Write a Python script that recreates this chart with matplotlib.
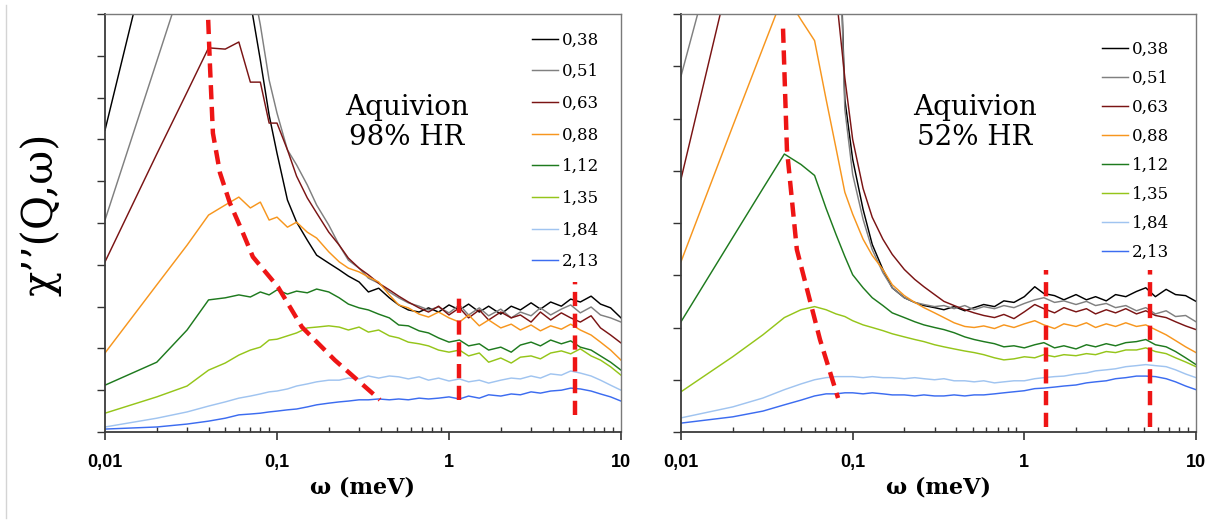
import numpy as np
import matplotlib.pyplot as plt
from matplotlib.lines import Line2D
from matplotlib.ticker import LogLocator, NullLocator, NullFormatter

# energy grid (meV), shared by all curves
omega = [0.01, 0.02, 0.03, 0.04, 0.05, 0.06, 0.07, 0.08, 0.09, 0.1,
         0.115, 0.13, 0.15, 0.17, 0.2, 0.23, 0.26, 0.3, 0.34, 0.39,
         0.45, 0.51, 0.58, 0.67, 0.76, 0.87, 1.0, 1.15, 1.3, 1.5,
         1.7, 2.0, 2.3, 2.6, 3.0, 3.4, 3.9, 4.5, 5.1, 5.8,
         6.7, 7.6, 8.7, 10.0]

q_labels = ['0,38', '0,51', '0,63', '0,88', '1,12', '1,35', '1,84', '2,13']
colors = ['#000000', '#808080', '#7a1414', '#f7961e', '#1e7a1e', '#95c51a', '#a0c4f0', '#3c6cf0']

# --- Aquivion 98% HR ---
black98 = [7.22, 12.3, 14, 14, 14, 14, 10.3, 8.90, 7.58, 6.67,
           5.55, 5.02, 4.59, 4.23, 4.04, 3.88, 3.73, 3.59, 3.35, 3.44,
           3.21, 3.04, 2.92, 2.87, 2.97, 2.87, 3.04, 2.92, 3.06, 2.87,
           3.01, 2.82, 3.01, 2.92, 3.09, 2.94, 3.11, 3.01, 3.18, 3.11,
           3.25, 3.06, 2.97, 2.73]
gray98 = [5.07, 8.87, 11.1, 13, 13, 13, 11.0, 9.74, 8.42, 7.63,
          6.75, 6.39, 5.91, 5.43, 4.95, 4.47, 4.11, 3.92, 3.68, 3.56,
          3.35, 3.21, 3.09, 3.01, 2.92, 2.99, 2.85, 3.04, 2.80, 2.97,
          2.78, 2.94, 2.73, 2.87, 2.78, 2.97, 2.80, 2.94, 3.04, 2.85,
          2.99, 2.80, 2.73, 2.63]
maroon98 = [4.07, 6.65, 8.13, 9.19, 9.16, 9.33, 8.37, 8.37, 7.39, 7.39,
            6.75, 6.12, 5.60, 5.24, 4.78, 4.47, 4.16, 3.92, 3.76, 3.56,
            3.40, 3.25, 3.11, 2.97, 2.87, 3.01, 2.80, 2.97, 2.73, 2.92,
            2.68, 2.87, 2.73, 2.80, 2.63, 2.87, 2.68, 2.85, 2.73, 2.63,
            2.78, 2.49, 2.32, 2.13]
orange98 = [1.89, 3.52, 4.47, 5.19, 5.43, 5.62, 5.36, 5.50, 5.07, 5.14,
            4.90, 5.02, 4.78, 4.64, 4.31, 4.07, 3.92, 3.83, 3.71, 3.59,
            3.28, 3.04, 2.97, 2.82, 2.75, 2.87, 2.73, 2.63, 2.80, 2.54,
            2.68, 2.49, 2.58, 2.44, 2.56, 2.42, 2.54, 2.46, 2.58, 2.44,
            2.32, 2.15, 1.96, 1.72]
green98 = [1.12, 1.67, 2.44, 3.16, 3.21, 3.28, 3.23, 3.35, 3.28, 3.40,
           3.30, 3.37, 3.33, 3.42, 3.35, 3.21, 3.06, 2.97, 2.92, 2.82,
           2.73, 2.56, 2.54, 2.42, 2.37, 2.25, 2.15, 2.20, 2.06, 2.11,
           1.96, 2.03, 1.91, 2.08, 2.15, 2.06, 2.20, 2.11, 2.18, 2.03,
           1.96, 1.82, 1.67, 1.48]
ygreen98 = [0.45, 0.84, 1.10, 1.48, 1.65, 1.84, 1.96, 2.03, 2.20, 2.22,
            2.30, 2.37, 2.49, 2.51, 2.54, 2.51, 2.44, 2.51, 2.39, 2.44,
            2.30, 2.25, 2.15, 2.11, 2.06, 1.96, 1.91, 1.96, 1.82, 1.89,
            1.67, 1.77, 1.65, 1.79, 1.82, 1.75, 1.89, 1.94, 1.87, 1.99,
            1.82, 1.72, 1.56, 1.36]
lblue98 = [0.12, 0.33, 0.48, 0.62, 0.72, 0.81, 0.86, 0.91, 0.96, 0.98,
           1.03, 1.10, 1.15, 1.20, 1.24, 1.24, 1.29, 1.27, 1.34, 1.29,
           1.34, 1.32, 1.27, 1.32, 1.24, 1.29, 1.22, 1.27, 1.20, 1.24,
           1.17, 1.24, 1.29, 1.27, 1.34, 1.29, 1.39, 1.36, 1.46, 1.41,
           1.34, 1.24, 1.12, 1.00]
blue98 = [0.07, 0.12, 0.19, 0.26, 0.33, 0.41, 0.43, 0.45, 0.48, 0.50,
          0.53, 0.55, 0.60, 0.65, 0.69, 0.72, 0.74, 0.77, 0.77, 0.79,
          0.77, 0.79, 0.77, 0.81, 0.79, 0.81, 0.84, 0.79, 0.86, 0.81,
          0.89, 0.86, 0.91, 0.89, 0.96, 0.93, 0.98, 1.00, 1.05, 1.03,
          0.98, 0.91, 0.84, 0.74]

# --- Aquivion 52% HR ---
black52 = [10.5, 13, 13, 13, 13, 13, 13, 12, 6.37, 5.22,
           4.26, 3.59, 3.11, 2.76, 2.57, 2.48, 2.42, 2.38, 2.34, 2.40,
           2.32, 2.38, 2.44, 2.40, 2.51, 2.48, 2.59, 2.78, 2.65, 2.61,
           2.53, 2.63, 2.53, 2.59, 2.51, 2.63, 2.59, 2.69, 2.76, 2.59,
           2.73, 2.63, 2.61, 2.50]
gray52 = [6.81, 10.5, 13, 13, 13, 13, 13, 12, 6.18, 4.93,
          4.07, 3.49, 3.05, 2.76, 2.57, 2.48, 2.44, 2.40, 2.42, 2.36,
          2.42, 2.34, 2.40, 2.36, 2.42, 2.38, 2.46, 2.53, 2.57, 2.48,
          2.51, 2.44, 2.50, 2.42, 2.46, 2.38, 2.42, 2.32, 2.38, 2.26,
          2.32, 2.21, 2.23, 2.11]
maroon52 = [4.84, 9.0, 12, 13, 13, 12, 11, 8.40, 6.78, 5.60,
            4.66, 4.11, 3.69, 3.40, 3.11, 2.92, 2.78, 2.63, 2.50, 2.42,
            2.34, 2.28, 2.23, 2.19, 2.25, 2.17, 2.30, 2.44, 2.36, 2.28,
            2.38, 2.30, 2.36, 2.26, 2.34, 2.28, 2.36, 2.26, 2.32, 2.23,
            2.19, 2.11, 2.03, 1.96]
orange52 = [3.26, 5.85, 7.35, 8.41, 7.89, 7.49, 6.37, 5.43, 4.59, 4.17,
            3.69, 3.38, 3.11, 2.82, 2.61, 2.48, 2.38, 2.28, 2.19, 2.09,
            2.02, 2.00, 2.03, 1.98, 2.05, 2.00, 2.07, 2.13, 2.05, 1.98,
            2.07, 2.02, 2.09, 2.00, 2.07, 2.02, 2.09, 2.02, 2.05, 1.96,
            1.86, 1.75, 1.63, 1.52]
green52 = [2.11, 3.72, 4.66, 5.32, 5.12, 4.91, 4.28, 3.78, 3.36, 3.01,
           2.76, 2.57, 2.42, 2.28, 2.19, 2.11, 2.05, 2.00, 1.96, 1.90,
           1.82, 1.77, 1.73, 1.69, 1.63, 1.65, 1.61, 1.67, 1.71, 1.61,
           1.65, 1.59, 1.67, 1.63, 1.69, 1.65, 1.71, 1.73, 1.77, 1.67,
           1.63, 1.54, 1.42, 1.29]
ygreen52 = [0.77, 1.44, 1.86, 2.19, 2.34, 2.40, 2.34, 2.26, 2.21, 2.13,
            2.05, 2.00, 1.94, 1.88, 1.82, 1.77, 1.73, 1.67, 1.63, 1.59,
            1.55, 1.52, 1.48, 1.42, 1.38, 1.40, 1.44, 1.42, 1.48, 1.44,
            1.48, 1.46, 1.50, 1.48, 1.54, 1.52, 1.57, 1.57, 1.61, 1.54,
            1.50, 1.42, 1.34, 1.25]
lblue52 = [0.27, 0.48, 0.65, 0.81, 0.92, 1.00, 1.04, 1.06, 1.06, 1.06,
           1.04, 1.06, 1.04, 1.04, 1.02, 1.04, 1.02, 1.00, 1.02, 0.98,
           0.98, 0.96, 0.98, 0.94, 0.96, 0.98, 0.98, 1.02, 1.04, 1.06,
           1.07, 1.11, 1.13, 1.17, 1.19, 1.21, 1.25, 1.27, 1.29, 1.27,
           1.25, 1.19, 1.11, 1.04]
blue52 = [0.17, 0.29, 0.40, 0.52, 0.61, 0.69, 0.73, 0.73, 0.75, 0.75,
          0.73, 0.75, 0.73, 0.71, 0.71, 0.69, 0.71, 0.69, 0.69, 0.71,
          0.69, 0.71, 0.71, 0.73, 0.75, 0.77, 0.79, 0.83, 0.84, 0.86,
          0.88, 0.90, 0.94, 0.96, 0.98, 1.02, 1.04, 1.07, 1.07, 1.06,
          1.02, 0.96, 0.88, 0.81]

# red guide lines (peak positions and the two fixed modes)
guide98_x = [0.0398, 0.0408, 0.0424, 0.0466, 0.0532, 0.0634, 0.0724, 0.1013, 0.1397, 0.2168, 0.3966]
guide98_y = [9.86, 8.73, 7.15, 6.20, 5.48, 4.76, 4.19, 3.47, 2.51, 1.72, 0.77]
guide52_x = [0.0393, 0.0414, 0.0473, 0.0645, 0.0822]
guide52_y = [7.72, 5.41, 3.49, 1.77, 0.65]
modes98 = [(1.14, 0.77, 3.33), (5.4, 0.41, 3.59)]
modes52 = [(1.34, 0.10, 3.11), (5.4, 0.10, 3.11)]

series98 = [black98, gray98, maroon98, orange98, green98, ygreen98, lblue98, blue98]
series52 = [black52, gray52, maroon52, orange52, green52, ygreen52, lblue52, blue52]

red = '#ee1515'
dash = (0, (3.2, 1.7))

fig = plt.figure(figsize=(12.14, 5.23), dpi=100)
ax1 = fig.add_axes([105 / 1214, 1 - 432 / 523, 516 / 1214, 418 / 523])
ax2 = fig.add_axes([681 / 1214, 1 - 432 / 523, 515 / 1214, 418 / 523])


def style_panel(ax, ytop):
    ax.set_xscale('log')
    ax.set_xlim(0.01, 10)
    ax.set_ylim(0, ytop)
    ax.set_yticks(np.arange(0, ytop + 1))
    ax.set_yticklabels([])
    ax.yaxis.set_minor_locator(NullLocator())
    ax.set_xticks([0.01, 0.1, 1, 10])
    ax.set_xticklabels(['0,01', '0,1', '1', '10'])
    ax.xaxis.set_minor_locator(LogLocator(base=10, subs=np.arange(2, 10)))
    ax.xaxis.set_minor_formatter(NullFormatter())
    for lab in ax.get_xticklabels():
        lab.set_fontfamily('Liberation Sans')
        lab.set_fontweight('bold')
        lab.set_fontsize(13)
    ax.tick_params(axis='x', which='major', direction='out', length=6, width=1.2,
                   color='#333333', pad=10)
    ax.tick_params(axis='x', which='minor', direction='in', length=3.5, width=1,
                   color='#333333')
    ax.tick_params(axis='y', which='major', direction='out', length=5.5, width=1,
                   color='#333333')
    for s in ['left', 'bottom']:
        ax.spines[s].set_color('#3a3a3a')
        ax.spines[s].set_linewidth(1.3)
    for s in ['top', 'right']:
        ax.spines[s].set_color('#7a7a7a')
        ax.spines[s].set_linewidth(1.0)
    ax.set_xlabel('ω (meV)', fontfamily='DejaVu Serif', fontweight='bold',
                  fontsize=16, labelpad=4)


for ax, series, ytop in [(ax1, series98, 10), (ax2, series52, 8)]:
    style_panel(ax, ytop)
    for vals, col, lab in zip(series, colors, q_labels):
        ax.plot(omega, vals, color=col, lw=1.05, label=lab)

ax1.plot(guide98_x, guide98_y, color=red, lw=3.2, linestyle=dash)
ax2.plot(guide52_x, guide52_y, color=red, lw=3.2, linestyle=dash)
for xm, y0, y1 in modes98:
    ax1.plot([xm, xm], [y0, y1], color=red, lw=3.2, linestyle=dash)
for xm, y0, y1 in modes52:
    ax2.plot([xm, xm], [y0, y1], color=red, lw=3.2, linestyle=dash)

leg_kw = dict(loc='upper left', frameon=False, borderpad=0, borderaxespad=0,
              handlelength=1.55, handletextpad=0.25,
              prop={'family': 'DejaVu Serif', 'size': 12})
ax1.legend(bbox_to_anchor=(0.828, 0.958), labelspacing=0.88, **leg_kw)
ax2.legend(bbox_to_anchor=(0.817, 0.935), labelspacing=0.72, **leg_kw)

ax1.text(0.585, 0.74, 'Aquivion\n98% HR', transform=ax1.transAxes, ha='center',
         va='center', fontsize=20, fontfamily='DejaVu Serif', linespacing=1.15)
ax2.text(0.571, 0.74, 'Aquivion\n52% HR', transform=ax2.transAxes, ha='center',
         va='center', fontsize=20, fontfamily='DejaVu Serif', linespacing=1.15)

fig.text(0.033, 0.59, 'χ’’(Q,ω)', rotation=90, ha='center', va='center',
         fontsize=30, fontfamily='DejaVu Serif')

# faint frame edge on the far left of the original figure
fig.add_artist(Line2D([6 / 1214, 6 / 1214], [1 - 5 / 523, 1 - 518 / 523],
                      transform=fig.transFigure, color='#d4d4d4', lw=1))

fig.savefig('out.png', dpi=100)
